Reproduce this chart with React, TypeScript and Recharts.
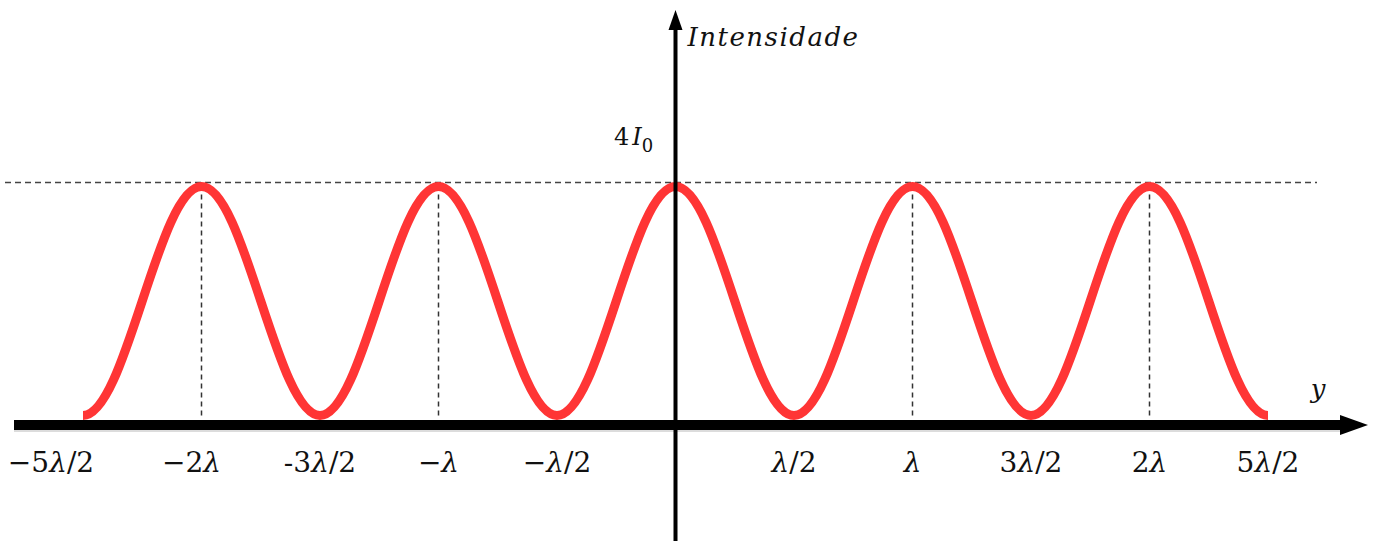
import React from 'react'
import { LineChart, Line, XAxis, YAxis, ReferenceLine } from 'recharts'

// y position in units of λ, intensity in units of I0
const positions = [-2.5, -2, -1.5, -1, -0.5, 0, 0.5, 1, 1.5, 2, 2.5]
const intensity = [0, 4, 0, 4, 0, 4, 0, 4, 0, 4, 0]
const tickValues = [-2.5, -2, -1.5, -1, -0.5, 0.5, 1, 1.5, 2, 2.5]
const tickLabels = ['−5λ/2', '−2λ', '-3λ/2', '−λ', '−λ/2', 'λ/2', 'λ', '3λ/2', '2λ', '5λ/2']

const data = positions.map((y, i) => ({ y, intensity: intensity[i] }))
const maxIntensity = Math.max(...intensity)
const peaks = data.filter(d => d.intensity === maxIntensity && d.y !== 0).map(d => d.y)

const W = 1376
const H = 541
const MATH = '"DejaVu Serif", "Liberation Serif", serif'

// half-period pieces with flat tangents at every max/min (cos²-like fringes)
const curveFringe = (context: any) => {
  let px = 0, py = 0, n = 0
  return {
    areaStart() {}, areaEnd() {},
    lineStart() { n = 0 },
    lineEnd() {},
    point(x: number, y: number) {
      x = +x; y = +y
      if (n === 0) context.moveTo(x, y)
      else {
        const k = (x - px) * 0.364
        context.bezierCurveTo(px + k, py, x - k, y, x, y)
      }
      px = x; py = y; n++
    },
  }
}

const MathText = ({ text }: { text: string }) => (
  <>
    {text.split(/(λ)/).filter(Boolean).map((s, i) =>
      s === 'λ' ? <tspan key={i} fontStyle="italic">λ</tspan> : <tspan key={i}>{s}</tspan>)}
  </>
)

const renderTick = (props: any) => {
  const { x, y, payload, index } = props
  const label = tickLabels[tickValues.indexOf(payload.value)] ?? ''
  const dx = index === 0 ? -32 : payload.value === -2 ? -10 : 0
  return (
    <text x={x + dx} y={y + 48} textAnchor="middle" fontFamily={MATH} fontSize={28} fill="#111">
      <MathText text={label} />
    </text>
  )
}

const xAxisShape = (p: any) => {
  const ay = p.y1 + 9.5
  return (
    <g>
      <line x1={14} y1={ay + 2} x2={1344} y2={ay + 2} stroke="#bbb" strokeWidth={10} opacity={0.5} />
      <line x1={14} y1={ay} x2={1344} y2={ay} stroke="#000" strokeWidth={10} />
      <polygon points={`1368,${ay} 1340,${ay - 10} 1340,${ay + 10}`} fill="#000" />
      <text x={1318} y={ay - 27} textAnchor="middle" fontFamily={MATH} fontStyle="italic" fontSize={26} fill="#111">y</text>
    </g>
  )
}

const yAxisShape = (p: any) => {
  const ax = p.x1
  return (
    <g>
      <line x1={ax} y1={26} x2={ax} y2={H} stroke="#000" strokeWidth={4} />
      <polygon points={`${ax},10 ${ax - 7},30 ${ax + 7},30`} fill="#000" />
      <text x={ax + 12} y={46} fontFamily={MATH} fontStyle="italic" fontSize={26} letterSpacing={1.5} fill="#111">Intensidade</text>
    </g>
  )
}

const topLineShape = (p: any) => {
  const ly = p.y1 - 4
  return (
    <g>
      <line x1={5} y1={ly} x2={1317} y2={ly} stroke="#444" strokeWidth={1.5} strokeDasharray="6 4" />
      <text x={614} y={ly - 38} fontFamily={MATH} fontSize={24} fill="#111">
        4<tspan fontStyle="italic" dx={3}>I</tspan><tspan fontSize={18} dy={7}>0</tspan>
      </text>
    </g>
  )
}

export default function App() {
  return (
    <div style={{ position: 'absolute', left: 0, top: 0, background: '#fff' }}>
      <LineChart width={W} height={H} data={data} margin={{ top: 186.5, right: 108, bottom: 85.5, left: 83 }}>
        <XAxis dataKey="y" type="number" domain={[-2.5, 2.5]} ticks={tickValues} interval={0}
          axisLine={false} tickLine={false} tick={renderTick} height={40} />
        <YAxis type="number" domain={[0, 4]} hide width={0} />
        <ReferenceLine y={4} ifOverflow="visible" shape={topLineShape} />
        {peaks.map(v => (
          <ReferenceLine key={v} x={v} stroke="#333" strokeWidth={1.5} strokeDasharray="5 4" />
        ))}
        <Line dataKey="intensity" type={curveFringe as any} stroke="#ff3535" strokeWidth={9}
          dot={false} activeDot={false} isAnimationActive={false} />
        <ReferenceLine y={0} ifOverflow="visible" shape={xAxisShape} />
        <ReferenceLine x={0} ifOverflow="visible" shape={yAxisShape} />
      </LineChart>
    </div>
  )
}
